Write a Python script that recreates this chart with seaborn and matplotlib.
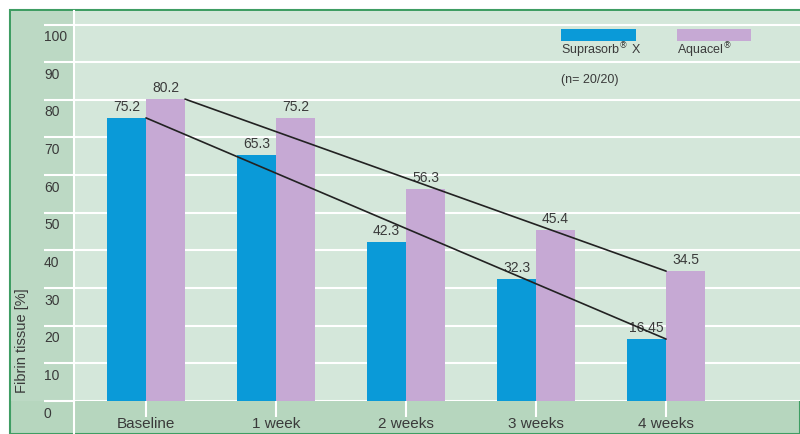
import numpy as np
import pandas as pd
import matplotlib
matplotlib.use("Agg")
import matplotlib.pyplot as plt
import matplotlib.transforms as mtransforms
from matplotlib.patches import Rectangle
from matplotlib.lines import Line2D
import seaborn as sns

# data
weeks = ["Baseline", "1 week", "2 weeks", "3 weeks", "4 weeks"]
suprasorb = [75.2, 65.3, 42.3, 32.3, 16.45]
aquacel = [80.2, 75.2, 56.3, 45.4, 34.5]
suprasorb_labels = ["75.2", "65.3", "42.3", "32.3", "16.45"]
aquacel_labels = ["80.2", "75.2", "56.3", "45.4", "34.5"]
y_ticks = [0, 10, 20, 30, 40, 50, 60, 70, 80, 90, 100]

BLUE = "#0a9ad8"
PURPLE = "#c6a9d4"
PLOT_BG = "#d4e7da"
PANEL_BG = "#bcd9c4"
BAND_BG = "#b6d6be"
FRAME = "#3f9d63"
TXT = "#3a3a3a"

sns.set_theme(style="white")
plt.rcParams["font.family"] = ["Liberation Sans", "DejaVu Sans"]

df = pd.DataFrame({
    "week": weeks * 2,
    "fibrin": suprasorb + aquacel,
    "dressing": ["Suprasorb X"] * len(weeks) + ["Aquacel"] * len(weeks),
})

W, H = 800, 434
fig = plt.figure(figsize=(W / 100, H / 100), dpi=100)
fig.patch.set_facecolor("white")

# frame + bottom band, left panel
fig.add_artist(Rectangle((10 / W, 0), 1 - 10 / W, (H - 10) / H, transform=fig.transFigure,
                         facecolor=BAND_BG, edgecolor=FRAME, lw=1.5, zorder=0))
fig.add_artist(Rectangle((11 / W, 33 / H), 63 / W, 390 / H, transform=fig.transFigure,
                         facecolor=PANEL_BG, edgecolor="none", zorder=0))

ax = fig.add_axes([74 / W, 33 / H, 726 / W, 390 / H])
ax.set_facecolor(PLOT_BG)
ax.set_axisbelow(True)

sns.barplot(data=df, x="week", y="fibrin", hue="dressing", order=weeks,
            palette=[BLUE, PURPLE], width=0.6, saturation=1, errorbar=None,
            legend=False, linewidth=0, edgecolor="none", ax=ax)

ax.set_xlim(-0.554, 5.03)
ax.set_ylim(0, 103.6)

ax.set_yticks(y_ticks)
ax.yaxis.grid(True, color="white", lw=1.5)
ax.xaxis.grid(False)
ax.tick_params(axis="y", direction="out", length=21.6, width=1.5, color="white",
               pad=0, labelsize=10, labelcolor=TXT)
ax.tick_params(axis="x", direction="out", length=11.5, width=1.5, color="white",
               pad=0, labelsize=11, labelcolor=TXT)
ax.tick_params(left=True, bottom=True)
offset = mtransforms.ScaledTranslation(0, -11 / 100, fig.dpi_scale_trans)
for lab in ax.get_yticklabels():
    lab.set_horizontalalignment("left")
    lab.set_transform(lab.get_transform() + offset)

for side in ["top", "right", "bottom"]:
    ax.spines[side].set_visible(False)
ax.spines["left"].set_color("white")
ax.spines["left"].set_linewidth(1.5)
fig.add_artist(Line2D([74 / W, 74 / W], [0, 33 / H], transform=fig.transFigure,
                      color="white", lw=1.5))

ax.set_xlabel("")
ax.set_ylabel("Fibrin tissue [%]", fontsize=10.5, color=TXT)
ax.yaxis.set_label_coords(-0.062, 0.154)

ax.bar_label(ax.containers[0], labels=suprasorb_labels, padding=3, fontsize=10, color=TXT)
ax.bar_label(ax.containers[1], labels=aquacel_labels, padding=3, fontsize=10, color=TXT)

# trend lines between first and last bars
b0, b4 = ax.containers[0][0], ax.containers[0][-1]
p0, p4 = ax.containers[1][0], ax.containers[1][-1]
ax.plot([b0.get_x() + b0.get_width(), b4.get_x() + b4.get_width()],
        [b0.get_height(), b4.get_height()], color="#222222", lw=1.2, zorder=5)
ax.plot([p0.get_x() + p0.get_width(), p4.get_x()],
        [p0.get_height(), p4.get_height()], color="#222222", lw=1.2, zorder=5)

# legend
ax.add_patch(Rectangle((0.671, 0.923), 0.103, 0.031, transform=ax.transAxes,
                       facecolor=BLUE, edgecolor="none", clip_on=False))
ax.add_patch(Rectangle((0.831, 0.923), 0.101, 0.031, transform=ax.transAxes,
                       facecolor=PURPLE, edgecolor="none", clip_on=False))
ax.text(0.671, 0.90, "Suprasorb$^{®}$ X", transform=ax.transAxes, ha="left", va="center",
        fontsize=9, color=TXT)
ax.text(0.831, 0.90, "Aquacel$^{®}$", transform=ax.transAxes, ha="left", va="center",
        fontsize=9, color=TXT)
ax.text(0.671, 0.823, "(n= 20/20)", transform=ax.transAxes, ha="left", va="center",
        fontsize=9, color=TXT)

fig.savefig("out.png", dpi=100, facecolor=fig.get_facecolor())
